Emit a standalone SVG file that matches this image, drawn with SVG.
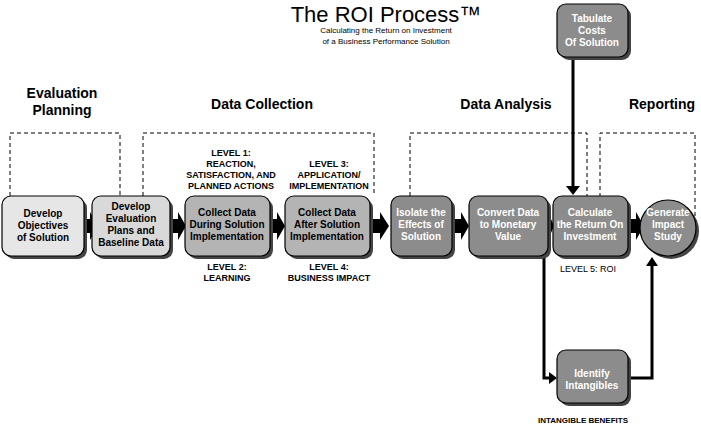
<svg xmlns="http://www.w3.org/2000/svg" width="701" height="427" viewBox="0 0 701 427">
<defs>
<style>
text{font-family:"Liberation Sans",Arial,sans-serif;font-weight:bold;text-anchor:middle}
.n{font-size:10px}
.lab{font-size:9px}
.h{font-size:14px}
.d{fill:none;stroke:#000;stroke-width:1;stroke-dasharray:4,3}
.sh{fill:#444}
.b{stroke:#000;stroke-width:1.2}
.w{fill:#fff}
</style>
</defs>
<rect width="701" height="427" fill="#fff"/>
<text x="386" y="22" style="font-size:22px;font-weight:normal">The ROI Process™</text>
<text x="386" y="33" style="font-size:8px;font-weight:normal">Calculating the Return on Investment</text>
<text x="386" y="44" style="font-size:8px;font-weight:normal">of a Business Performance Solution</text>
<text x="62" y="98" class="h">Evaluation</text>
<text x="62" y="115" class="h">Planning</text>
<text x="262" y="109" class="h">Data Collection</text>
<text x="506" y="109" class="h">Data Analysis</text>
<text x="662" y="109" class="h">Reporting</text>
<g id="connectors">
<path class="d" d="M10,196V133H120V196"/>
<path class="d" d="M143,196V133H374V196"/>
<path class="d" d="M410,196V133H587V196"/>
<path class="d" d="M600,218V133H695V218"/>
<g fill="#000">
<path d="M84,219h6v-7l8,14l-8,14v-7h-6z"/>
<path d="M172,219h6v-7l8,14l-8,14v-7h-6z"/>
<path d="M271,219h6v-7l8,14l-8,14v-7h-6z"/>
<path d="M372,219h8v-7l9,14l-9,14v-7h-8z"/>
<path d="M453,219h8v-7l8,14l-8,14v-7h-8z"/>
<path d="M548,219v-7l6,14l-6,14v-7z"/>
<path d="M629,219h7v-7l8,14l-8,14v-7h-7z"/>
</g>
<path d="M573,58V186" stroke="#000" stroke-width="3"/>
<path d="M566,186h14l-7,9z" fill="#000"/>
<path d="M544,238V378H549" stroke="#000" stroke-width="3" fill="none"/>
<path d="M549,372v12l8,-6z" fill="#000"/>
<path d="M629,378H652V266" stroke="#000" stroke-width="3" fill="none"/>
<path d="M646,266h12l-6,-9z" fill="#000"/>
</g>
<g id="n1"><rect x="5" y="199" width="82" height="60" rx="9" class="sh"/><rect x="2" y="196" width="82" height="60" rx="9" fill="#e6e6e6" class="b"/>
<text class="n" x="43" y="217">Develop</text><text class="n" x="43" y="229">Objectives</text><text class="n" x="43" y="241">of Solution</text></g>
<g id="n2"><rect x="95" y="199" width="78" height="60" rx="9" class="sh"/><rect x="92" y="196" width="78" height="60" rx="9" fill="#d9d9d9" class="b"/>
<text class="n" x="131" y="210">Develop</text><text class="n" x="131" y="222">Evaluation</text><text class="n" x="131" y="234">Plans and</text><text class="n" x="131" y="246">Baseline Data</text></g>
<g id="n3"><rect x="188" y="199" width="85" height="60" rx="9" class="sh"/><rect x="185" y="196" width="85" height="60" rx="9" fill="#b4b4b4" class="b"/>
<text class="n" x="227" y="216">Collect Data</text><text class="n" x="227" y="228">During Solution</text><text class="n" x="227" y="240">Implementation</text></g>
<g id="n4"><rect x="288" y="199" width="85" height="60" rx="9" class="sh"/><rect x="285" y="196" width="85" height="60" rx="9" fill="#b4b4b4" class="b"/>
<text class="n" x="327" y="216">Collect Data</text><text class="n" x="327" y="228">After Solution</text><text class="n" x="327" y="240">Implementation</text></g>
<g id="n5"><rect x="394" y="199" width="61" height="60" rx="9" class="sh"/><rect x="391" y="196" width="61" height="60" rx="9" fill="#8c8c8c" class="b"/>
<text class="n w" x="421" y="216">Isolate the</text><text class="n w" x="421" y="228">Effects of</text><text class="n w" x="421" y="240">Solution</text></g>
<g id="n6"><rect x="472" y="199" width="79" height="60" rx="9" class="sh"/><rect x="469" y="196" width="79" height="60" rx="9" fill="#8c8c8c" class="b"/>
<text class="n w" x="508" y="216">Convert Data</text><text class="n w" x="508" y="228">to Monetary</text><text class="n w" x="508" y="240">Value</text></g>
<g id="n7"><rect x="556" y="199" width="75" height="60" rx="9" class="sh"/><rect x="553" y="196" width="75" height="60" rx="9" fill="#8c8c8c" class="b"/>
<text class="n w" x="590" y="216">Calculate</text><text class="n w" x="590" y="228">the Return On</text><text class="n w" x="590" y="240">Investment</text></g>
<g id="n8"><circle cx="671" cy="231" r="28" class="sh"/><circle cx="668" cy="228" r="28" fill="#8c8c8c" class="b"/>
<text class="n w" x="668" y="216">Generate</text><text class="n w" x="668" y="228">Impact</text><text class="n w" x="668" y="240">Study</text></g>
<g id="n9"><rect x="560" y="7" width="71" height="53" rx="9" class="sh"/><rect x="557" y="4" width="71" height="53" rx="9" fill="#8c8c8c" class="b"/>
<text class="n w" x="592" y="22">Tabulate</text><text class="n w" x="592" y="34">Costs</text><text class="n w" x="592" y="46">Of Solution</text></g>
<g id="n10"><rect x="560" y="353" width="71" height="53" rx="9" class="sh"/><rect x="557" y="350" width="71" height="53" rx="9" fill="#8c8c8c" class="b"/>
<text class="n w" x="592" y="377">Identify</text><text class="n w" x="592" y="389">Intangibles</text></g>
<g id="labels">
<text class="lab" x="231" y="156">LEVEL 1:</text><text class="lab" x="231" y="167">REACTION,</text><text class="lab" x="231" y="178">SATISFACTION, AND</text><text class="lab" x="231" y="189">PLANNED ACTIONS</text>
<text class="lab" x="227" y="270">LEVEL 2:</text><text class="lab" x="227" y="281">LEARNING</text>
<text class="lab" x="329" y="167">LEVEL 3:</text><text class="lab" x="329" y="178">APPLICATION/</text><text class="lab" x="329" y="189">IMPLEMENTATION</text>
<text class="lab" x="329" y="270">LEVEL 4:</text><text class="lab" x="329" y="281">BUSINESS IMPACT</text>
<text class="lab" x="588" y="272" style="font-weight:normal">LEVEL 5:  ROI</text>
<text class="lab" x="583" y="423" style="font-size:8px">INTANGIBLE BENEFITS</text>
</g>
</svg>
